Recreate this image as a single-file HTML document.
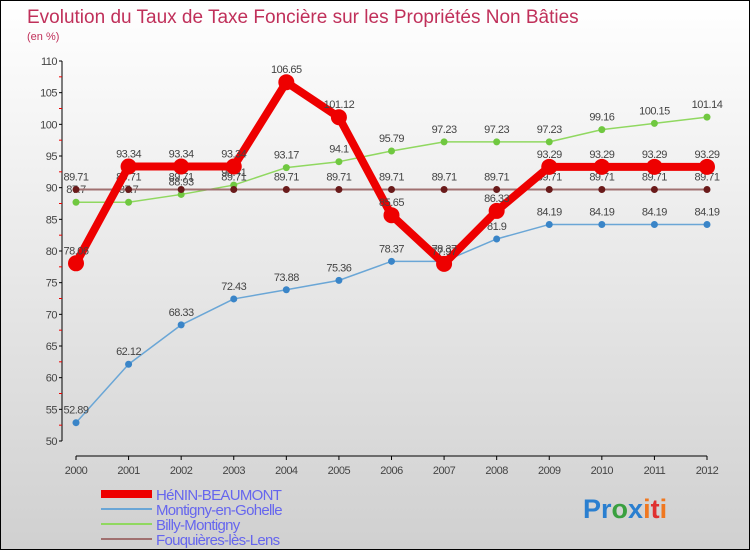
<!DOCTYPE html>
<html><head><meta charset="utf-8"><style>
body{margin:0}
#wrap{width:748px;height:548px;border:1px solid #000;background:linear-gradient(#ffffff,#d0d0d0);position:relative;font-family:"Liberation Sans",sans-serif;overflow:hidden}
svg text{font-family:"Liberation Sans",sans-serif}
</style></head><body>
<div id="wrap">
<svg id="chart" width="748" height="548">
<text x="26" y="22" font-size="19" fill="#c0305a">Evolution du Taux de Taxe Foncière sur les Propriétés Non Bâties</text>
<text x="26" y="39" font-size="11" fill="#c0305a">(en %)</text>
<g id="axes"></g><g id="series"></g><g id="legend"></g>
<text x="582" y="517" font-size="27" font-weight="bold"><tspan fill="#2a7fd0">Pr</tspan><tspan fill="#3aa040">o</tspan><tspan fill="#2a7fd0">x</tspan><tspan fill="#f07820">i</tspan><tspan fill="#e03030">t</tspan><tspan fill="#f07820">i</tspan></text>
</svg></div>
<script>
const years=[2000,2001,2002,2003,2004,2005,2006,2007,2008,2009,2010,2011,2012];
const henin=[78.06,93.34,93.34,93.34,106.65,101.12,85.65,77.97,86.33,93.29,93.29,93.29,93.29];
const montigny=[52.89,62.12,68.33,72.43,73.88,75.36,78.37,78.37,81.9,84.19,84.19,84.19,84.19];
const billy=[87.7,87.7,88.93,90.41,93.17,94.1,95.79,97.23,97.23,97.23,99.16,100.15,101.14];
const fouq=[89.71,89.71,89.71,89.71,89.71,89.71,89.71,89.71,89.71,89.71,89.71,89.71,89.71];
const yTicks=[50,55,60,65,70,75,80,85,90,95,100,105,110];
const names=["HéNIN-BEAUMONT","Montigny-en-Gohelle","Billy-Montigny","Fouquières-lès-Lens"];
const NS="http://www.w3.org/2000/svg";
const x=i=>75+i*(706-75)/12;
const y=v=>440-(v-50)*(380/60);
function mk(t,a,p){const e=document.createElementNS(NS,t);for(const k in a)e.setAttribute(k,a[k]);p.appendChild(e);return e;}
const ax=document.getElementById('axes');
mk('line',{x1:61,y1:y(110),x2:61,y2:y(50),stroke:'#000'},ax);
mk('line',{x1:75,y1:455,x2:706,y2:455,stroke:'#000'},ax);
yTicks.forEach(v=>{
 mk('line',{x1:58,y1:y(v),x2:61,y2:y(v),stroke:'#000'},ax);
 if(v<110)mk('line',{x1:58,y1:y(v+2.5),x2:61,y2:y(v+2.5),stroke:'#e00'},ax);
 const t=mk('text',{x:56,y:y(v)+4,'font-size':11,'text-anchor':'end',fill:'#444','letter-spacing':'-0.5'},ax);t.textContent=v;
 
 
});
years.forEach((yr,i)=>{
 mk('line',{x1:x(i),y1:455,x2:x(i),y2:459,stroke:'#000'},ax);
 const t=mk('text',{x:x(i),y:473,'font-size':11,'text-anchor':'middle',fill:'#444','letter-spacing':'-0.5'},ax);t.textContent=yr;
 
 
});
const sg=document.getElementById('series');
const specs=[
 {d:montigny,c:'#6aa6d6',w:1.5,r:3.5,pc:'#3a85c8',n:'montigny'},
 {d:billy,c:'#90d860',w:1.5,r:3.5,pc:'#70c840',n:'billy'},
 {d:fouq,c:'#a07070',w:2,r:3.5,pc:'#6a1a1a',n:'fouquieres'},
 {d:henin,c:'#ee0000',w:8,r:8,pc:'#ee0000',n:'henin'}];
specs.forEach(s=>{
 const g=mk('g',{},sg);
 
 
 const pl=mk('polyline',{points:s.d.map((v,i)=>x(i)+','+y(v)).join(' '),fill:'none',stroke:s.c,'stroke-width':s.w,'stroke-linejoin':'round'},g);
 
 
 s.d.forEach((v,i)=>{
  const c=mk('circle',{cx:x(i),cy:y(v),r:s.r,fill:s.pc},g);
  
  
  const t=mk('text',{x:x(i),y:y(v)-9,'font-size':11,'text-anchor':'middle',fill:'#444','letter-spacing':'-0.5'},g);
  t.textContent=v;
  
  
 });
});
const lg=document.getElementById('legend');
const lc=['#ee0000','#6aa6d6','#90d860','#a07070'],lw=[8,2,2,2];
names.forEach((n,i)=>{
 const yy=493+i*15;
 const l=mk('line',{x1:100,y1:yy,x2:151,y2:yy,stroke:lc[i],'stroke-width':lw[i]},lg);
 
 
 const t=mk('text',{x:155,y:yy+6,'font-size':15,fill:'#6666ee','letter-spacing':'-0.7'},lg);t.textContent=n;
 
 
});
</script>
</body></html>
